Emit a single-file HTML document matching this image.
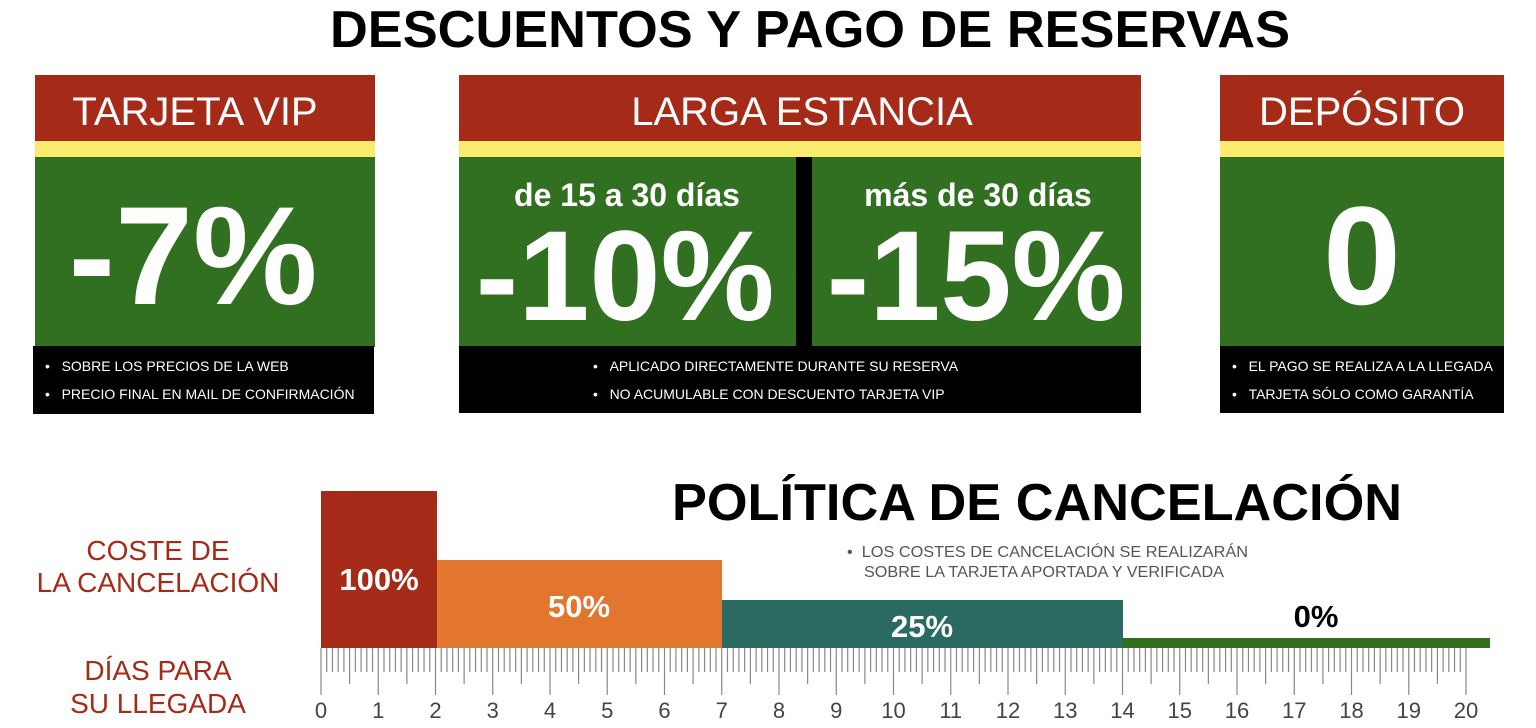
<!DOCTYPE html>
<html><head><meta charset="utf-8"><style>
body{margin:0;background:#fff;}
svg{display:block;font-family:"Liberation Sans",Arial,sans-serif;}
</style></head><body>
<svg id="s" width="1536" height="728" viewBox="0 0 1536 728" xmlns="http://www.w3.org/2000/svg">
<text x="810" y="47" text-anchor="middle" font-size="52" font-weight="bold" fill="#000" textLength="960" lengthAdjust="spacingAndGlyphs">DESCUENTOS Y PAGO DE RESERVAS</text>

<!-- VIP -->
<rect x="35" y="75" width="340" height="67" fill="#a52a18"/>
<rect x="35" y="141" width="340" height="16" fill="#fbeb6e"/>
<rect x="35" y="157" width="340" height="190" fill="#317020"/>
<rect x="33" y="346" width="341" height="68" fill="#000"/>
<text x="195" y="125" text-anchor="middle" font-size="40" fill="#fff">TARJETA VIP</text>
<text x="193" y="304" text-anchor="middle" font-size="140" font-weight="bold" fill="#fff">-7%</text>
<text x="45" y="371" font-size="14" fill="#fff">•&#160;&#160;&#160;SOBRE LOS PRECIOS DE LA WEB</text>
<text x="45" y="399" font-size="14" fill="#fff">•&#160;&#160;&#160;PRECIO FINAL EN MAIL DE CONFIRMACIÓN</text>

<!-- LARGA -->
<rect x="459" y="75" width="682" height="67" fill="#a52a18"/>
<rect x="459" y="141" width="682" height="16" fill="#fbeb6e"/>
<rect x="459" y="157" width="682" height="190" fill="#317020"/>
<rect x="796" y="157" width="16" height="190" fill="#000"/>
<rect x="459" y="346" width="682" height="67" fill="#000"/>
<text x="802" y="125" text-anchor="middle" font-size="40" fill="#fff">LARGA ESTANCIA</text>
<text x="627" y="206" text-anchor="middle" font-size="32" font-weight="bold" fill="#fff">de 15 a 30 días</text>
<text x="978" y="206" text-anchor="middle" font-size="32" font-weight="bold" fill="#fff">más de 30 días</text>
<text x="625" y="320" text-anchor="middle" font-size="128" font-weight="bold" fill="#fff">-10%</text>
<text x="976" y="320" text-anchor="middle" font-size="128" font-weight="bold" fill="#fff">-15%</text>
<text x="593" y="371" font-size="14" fill="#fff">•&#160;&#160;&#160;APLICADO DIRECTAMENTE DURANTE SU RESERVA</text>
<text x="593" y="399" font-size="14" fill="#fff">•&#160;&#160;&#160;NO ACUMULABLE CON DESCUENTO TARJETA VIP</text>

<!-- DEPOSITO -->
<rect x="1220" y="75" width="284" height="67" fill="#a52a18"/>
<rect x="1220" y="141" width="284" height="16" fill="#fbeb6e"/>
<rect x="1220" y="157" width="284" height="190" fill="#317020"/>
<rect x="1220" y="346" width="284" height="67" fill="#000"/>
<text x="1362" y="125" text-anchor="middle" font-size="40" fill="#fff">DEPÓSITO</text>
<text x="1362" y="304" text-anchor="middle" font-size="140" font-weight="bold" fill="#fff">0</text>
<text x="1232" y="371" font-size="14" fill="#fff">•&#160;&#160;&#160;EL PAGO SE REALIZA A LA LLEGADA</text>
<text x="1232" y="399" font-size="14" fill="#fff">•&#160;&#160;&#160;TARJETA SÓLO COMO GARANTÍA</text>

<!-- Cancellation -->
<text x="1037" y="520" text-anchor="middle" font-size="52" font-weight="bold" fill="#000" textLength="730" lengthAdjust="spacingAndGlyphs">POLÍTICA DE CANCELACIÓN</text>
<text x="847" y="557" font-size="16" fill="#555" textLength="401" lengthAdjust="spacingAndGlyphs">•&#160;&#160;LOS COSTES DE CANCELACIÓN SE REALIZARÁN</text>
<text x="864" y="577" font-size="16" fill="#555" textLength="360" lengthAdjust="spacingAndGlyphs">SOBRE LA TARJETA APORTADA Y VERIFICADA</text>

<g font-size="28" fill="#a52a18" text-anchor="middle">
<text x="158" y="560">COSTE DE</text>
<text x="158" y="592">LA CANCELACIÓN</text>
<text x="158" y="680">DÍAS PARA</text>
<text x="158" y="713">SU LLEGADA</text>
</g>

<rect x="321" y="491" width="116" height="157" fill="#a52a18"/>
<rect x="437" y="560" width="285" height="88" fill="#e2762f"/>
<rect x="722" y="600" width="401" height="48" fill="#2a6a63"/>
<rect x="1123" y="638" width="367" height="10" fill="#317020"/>
<g font-weight="bold" font-size="31" text-anchor="middle">
<text x="379" y="590" fill="#fff">100%</text>
<text x="579" y="617" fill="#fff">50%</text>
<text x="922" y="637" fill="#fff">25%</text>
<text x="1316" y="627" fill="#000">0%</text>
</g>
<g id="ruler" stroke="#888" stroke-width="1.2"></g>
<g id="nums" font-size="22" fill="#444" text-anchor="middle"></g>
</svg>
<script>
var r=document.getElementById('ruler'),n=document.getElementById('nums'),ns='http://www.w3.org/2000/svg';
var x0=321,u=(1466-321)/20;
for(var i=0;i<=200;i++){var x=x0+i*u/10,len=(i%10==0)?47:(i%5==0?36:24);
var l=document.createElementNS(ns,'line');l.setAttribute('x1',x);l.setAttribute('x2',x);l.setAttribute('y1',648);l.setAttribute('y2',648+len);r.appendChild(l);}
for(var k=0;k<=20;k++){var t=document.createElementNS(ns,'text');t.setAttribute('x',x0+k*u);t.setAttribute('y',718);t.textContent=k;n.appendChild(t);}
</script>
</body></html>
